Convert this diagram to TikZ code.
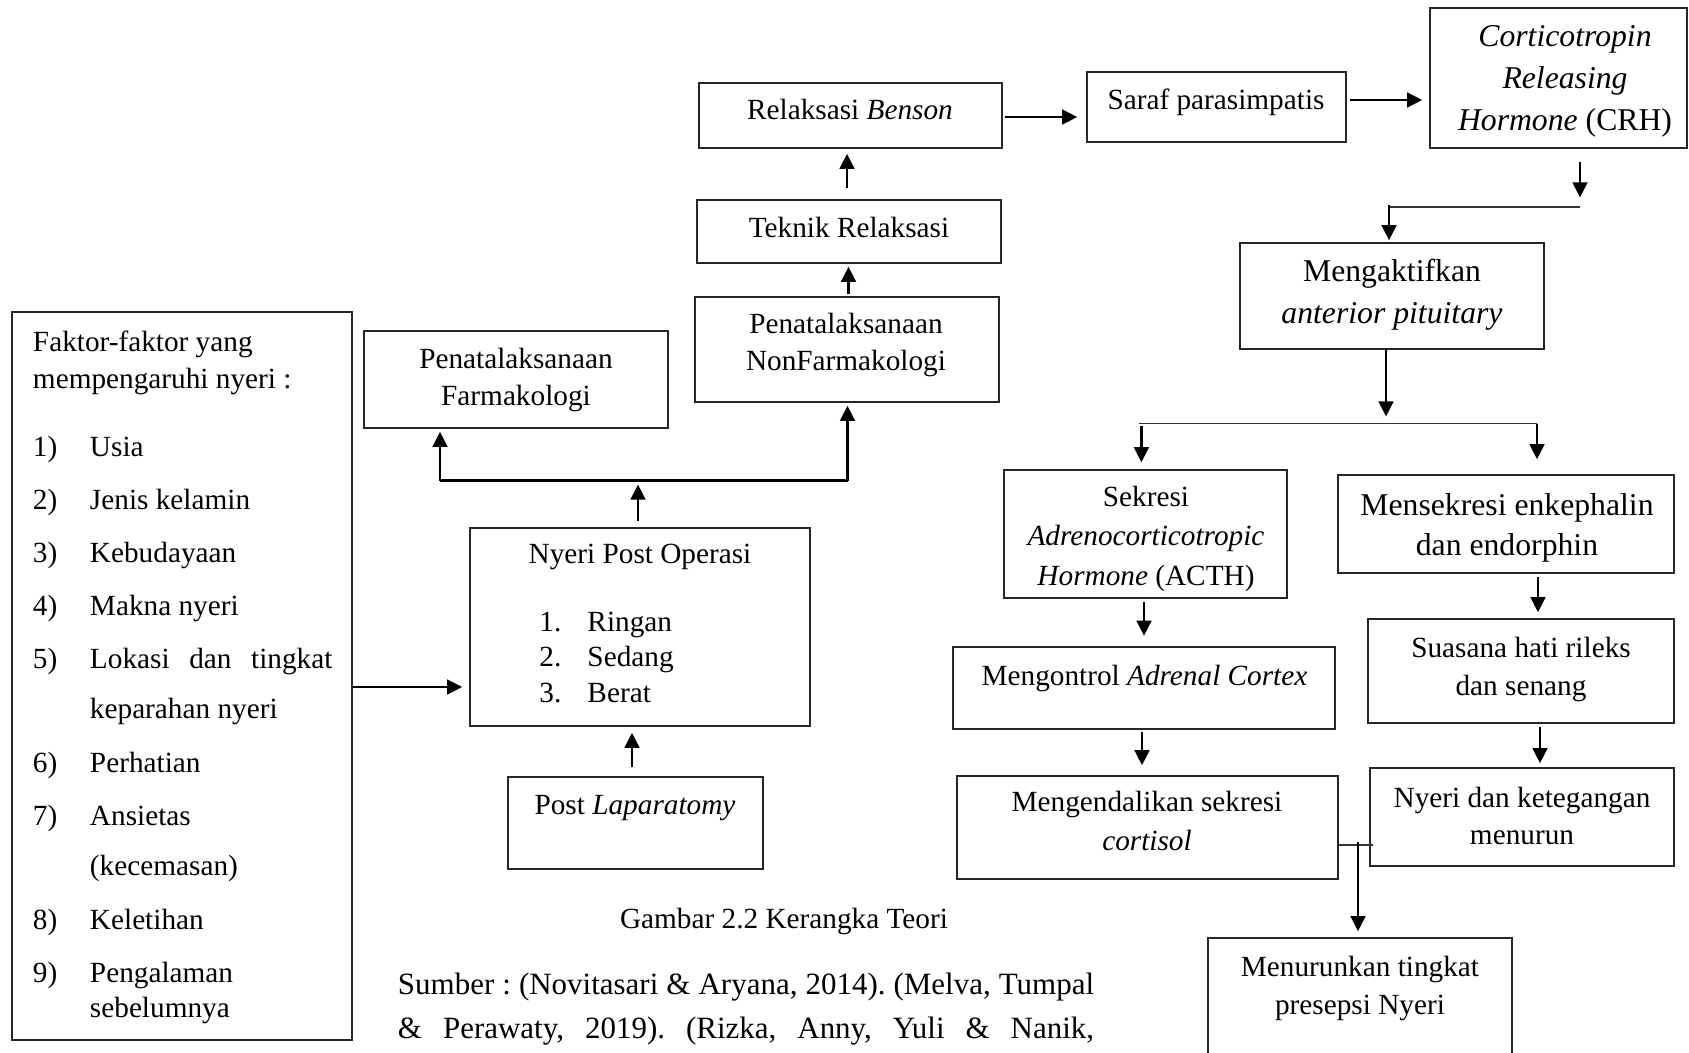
\documentclass[tikz,border=0pt]{standalone}
\usepackage{fontspec}
\setmainfont{Liberation Serif}
\usetikzlibrary{arrows.meta,fit,calc}
\frenchspacing
\newcommand\mlines[1]{\vtop{\halign{\hfil##\hfil\cr#1\crcr}}}
\tikzset{
  box/.style={draw=black!85, line width=0.6pt, inner sep=0pt},
  arr/.style={draw=black, line width=1.1pt, -{Triangle[length=6.2pt,width=6pt]}},
  thinl/.style={draw=black!80, line width=0.6pt},
  boldl/.style={draw=black, line width=1.1pt},
  txt/.style={inner sep=0pt, anchor=base, font=\fontsize{12}{16}\selectfont},
  lft/.style={txt, anchor=base west},
}
\begin{document}
\begin{tikzpicture}[x=0.41pt,y=-0.41pt]
\useasboundingbox (0,0) rectangle (1689,1053);
\clip (0,0) rectangle (1689,1053);

% ---------- boxes ----------
\node[box, fit={(12,312)(352,1040)}] (fk) {};
\node[box, fit={(364,331)(668,428)}] (farm) {};
\node[box, fit={(695,297)(999,402)}] (nonf) {};
\node[box, fit={(697,200)(1001,263)}] (tek) {};
\node[box, fit={(699,83)(1002,148)}] (ben) {};
\node[box, fit={(1087,72)(1346,142)}] (saraf) {};
\node[box, fit={(1430,8)(1687,148)}] (crh) {};
\node[box, fit={(1240,243)(1544,349)}] (akt) {};
\node[box, fit={(1004,470)(1287,598)}] (acth) {};
\node[box, fit={(1338,475)(1674,573)}] (enk) {};
\node[box, fit={(953,647)(1335,729)}] (ctl) {};
\node[box, fit={(957,776)(1338,879)}] (cort) {};
\node[box, fit={(1368,619)(1674,723)}] (sua) {};
\node[box, fit={(1370,768)(1674,866)}] (ket) {};
\node[box, fit={(1208,938)(1512,1075)}] (turun) {};
\node[box, fit={(470,528)(810,726)}] (np) {};
\node[box, fit={(508,777)(763,869)}] (lap) {};

% ---------- Faktor text ----------
\node[lft] (f0) at (32.5,351.5) {Faktor-faktor yang};
\node[lft] (f0b) at (32.5,388.5) {mempengaruhi nyeri :};
\node[lft] (n1) at (32.5,456.5) {1)}; \node[lft] (i1) at (89.5,456.5) {Usia};
\node[lft] (n2) at (32.5,509.5) {2)}; \node[lft] (i2) at (89.5,509.5) {Jenis kelamin};
\node[lft] (n3) at (32.5,562) {3)}; \node[lft] (i3) at (89.5,562) {Kebudayaan};
\node[lft] (n4) at (32.5,615) {4)}; \node[lft] (i4) at (89.5,615) {Makna nyeri};
\node[lft] (n5) at (32.5,668.5) {5)}; \node[lft] (i5) at (89.5,668.5) {\makebox[99.4pt][s]{Lokasi dan tingkat}};
\node[lft] (i5b) at (89.5,718.5) {keparahan nyeri};
\node[lft] (n6) at (32.5,772) {6)}; \node[lft] (i6) at (89.5,772) {Perhatian};
\node[lft] (n7) at (32.5,825) {7)}; \node[lft] (i7) at (89.5,825) {Ansietas};
\node[lft] (i7b) at (89.5,875.5) {(kecemasan)};
\node[lft] (n8) at (32.5,929.5) {8)}; \node[lft] (i8) at (89.5,929.5) {Keletihan};
\node[lft] (n9) at (32.5,982) {9)}; \node[lft] (i9) at (89.5,982) {Pengalaman};
\node[lft] (i9b) at (89.5,1017.5) {sebelumnya};

% ---------- other texts ----------
\node[txt] (npt) at (640,563.5) {Nyeri Post Operasi};
\node[lft] (np1n) at (539,631) {1.}; \node[lft] (np1) at (587,631) {Ringan};
\node[lft] (np2n) at (539,666) {2.}; \node[lft] (np2) at (587,666) {Sedang};
\node[lft] (np3n) at (539,702.5) {3.}; \node[lft] (np3) at (587,702.5) {Berat};
\node[txt] (lapt) at (635,814.5) {Post \textit{Laparatomy}};
\node[txt, font=\fontsize{12}{15.3}\selectfont] (farmt) at (516,368) {\mlines{Penatalaksanaan\cr Farmakologi}};
\node[txt, font=\fontsize{12}{15.3}\selectfont] (nonft) at (846,333) {\mlines{Penatalaksanaan\cr NonFarmakologi}};
\node[txt] (tekt) at (849,237) {Teknik Relaksasi};
\node[txt] (bent) at (850,120) {Relaksasi \textit{Benson}};
\node[txt] (saraft) at (1216,110) {Saraf parasimpatis};
\node[txt, font=\fontsize{13}{17.1}\selectfont] (crht) at (1565,46.7) {\mlines{\textit{Corticotropin}\cr \textit{Releasing}\cr \textit{Hormone} (CRH)}};
\node[txt, font=\fontsize{13}{17.1}\selectfont] (aktt) at (1392,281.7) {\mlines{Mengaktifkan\cr \textit{anterior pituitary}}};
\node[txt, font=\fontsize{12}{16.1}\selectfont] (actht) at (1146,506.7) {\mlines{Sekresi\cr \textit{Adrenocorticotropic}\cr \textit{Hormone} (ACTH)}};
\node[txt, font=\fontsize{13}{16.8}\selectfont] (enkt) at (1507,515) {\mlines{Mensekresi enkephalin\cr dan endorphin}};
\node[txt] (ctlt) at (1144.5,685) {Mengontrol \textit{Adrenal Cortex}};
\node[txt, font=\fontsize{12}{16}\selectfont] (cortt) at (1147,811) {\mlines{Mengendalikan sekresi\cr \textit{cortisol}}};
\node[txt, font=\fontsize{12}{15.8}\selectfont] (suat) at (1521,657) {\mlines{Suasana hati rileks\cr dan senang}};
\node[txt, font=\fontsize{12}{15.2}\selectfont] (kett) at (1522,807.5) {\mlines{Nyeri dan ketegangan\cr menurun}};
\node[txt, font=\fontsize{12}{15.4}\selectfont] (turunt) at (1360,976.5) {\mlines{Menurunkan tingkat\cr presepsi Nyeri}};
\node[txt] (cap) at (784,928.5) {Gambar 2.2 Kerangka Teori};
\node[lft, font=\fontsize{12.7}{16}\selectfont] (s1) at (397.5,994.5) {\makebox[285.4pt][s]{Sumber : (Novitasari \& Aryana, 2014). (Melva, Tumpal}};
\node[lft, font=\fontsize{12.7}{16}\selectfont] (s2) at (397.5,1038) {\makebox[285.4pt][s]{\& Perawaty, 2019). (Rizka, Anny, Yuli \& Nanik,}};

% ---------- connectors ----------
\draw[arr] (fk.east |- 0,687) -- ($(np.west |- 0,687)+(-7,0)$);
\draw[arr] ($(lap.north)+(-3.5,-9)$) -- ($(np.south -| lap.north)+(-3.5,6)$);

\coordinate (jl) at (440,480.5);
\coordinate (jr) at (847.5,480.5);
\draw[boldl] (jl) -- (jr);
\draw[arr] (jl) -- ($(farm.south -| jl)+(0,3)$);
\draw[arr] (jr) -- ($(nonf.south -| jr)+(0,3)$);
\draw[arr] ($(np.north)+(-2,-6)$) -- ($(jl -| np.north)+(-2,4)$);

\draw[arr] ($(nonf.north)+(1.5,-2)$) -- ($(tek.south -| nonf.north)+(1.5,3)$);
\draw[arr] ($(tek.north)+(-2,-11)$) -- ($(ben.south -| tek.north)+(-2,5)$);
\draw[arr] ($(ben.east)+(2,1.5)$) -- ($(saraf.west |- ben.east)+(-9,1.5)$);
\draw[arr] ($(saraf.east)+(3,-7)$) -- ($(crh.west |- saraf.east)+(-7,-7)$);

\coordinate (c1) at (1580,207);
\coordinate (c2) at (1389,207);
\draw[arr] ($(crh.south -| c1)+(0,13)$) -- ($(c1)+(0,-9.5)$);
\draw[thinl] (c1) -- (c2);
\draw[arr] ($(c2)+(0,-1.5)$) -- ($(akt.north -| c2)+(0,-2)$);

\coordinate (a1) at (1139,423.5);
\coordinate (a2) at (1537,423.5);
\draw[arr] ($(akt.south)+(-6,0)$) -- ($(akt.south |- a1)+(-6,-7)$);
\draw[thinl] (a1) -- (a2);
\draw[arr] ($(a1)+(2.4,2.5)$) -- ($(acth.north -| a1)+(2.4,-7)$);
\draw[arr] (a2) -- ($(enk.north -| a2)+(0,-15)$);

\draw[arr] ($(acth.south)+(-1.5,3)$) -- ($(ctl.north -| acth.south)+(-1.5,-10.5)$);
\draw[arr] ($(ctl.south)+(-2,2)$) -- ($(cort.north -| ctl.south)+(-2,-10)$);
\draw[arr] ($(enk.south)+(32,3)$) -- ($(sua.north -| enk.south)+(32,-6)$);
\draw[arr] ($(sua.south)+(19,3.5)$) -- ($(ket.north -| sua.south)+(19,-4)$);

\coordinate (x1) at (1358,842);
\draw[thinl] (cort.east |- 0,845) -- ($(ket.west |- 0,845)+(4,0)$);
\draw[arr] (x1) -- ($(turun.north -| x1)+(0,-6)$);
\end{tikzpicture}
\end{document}
